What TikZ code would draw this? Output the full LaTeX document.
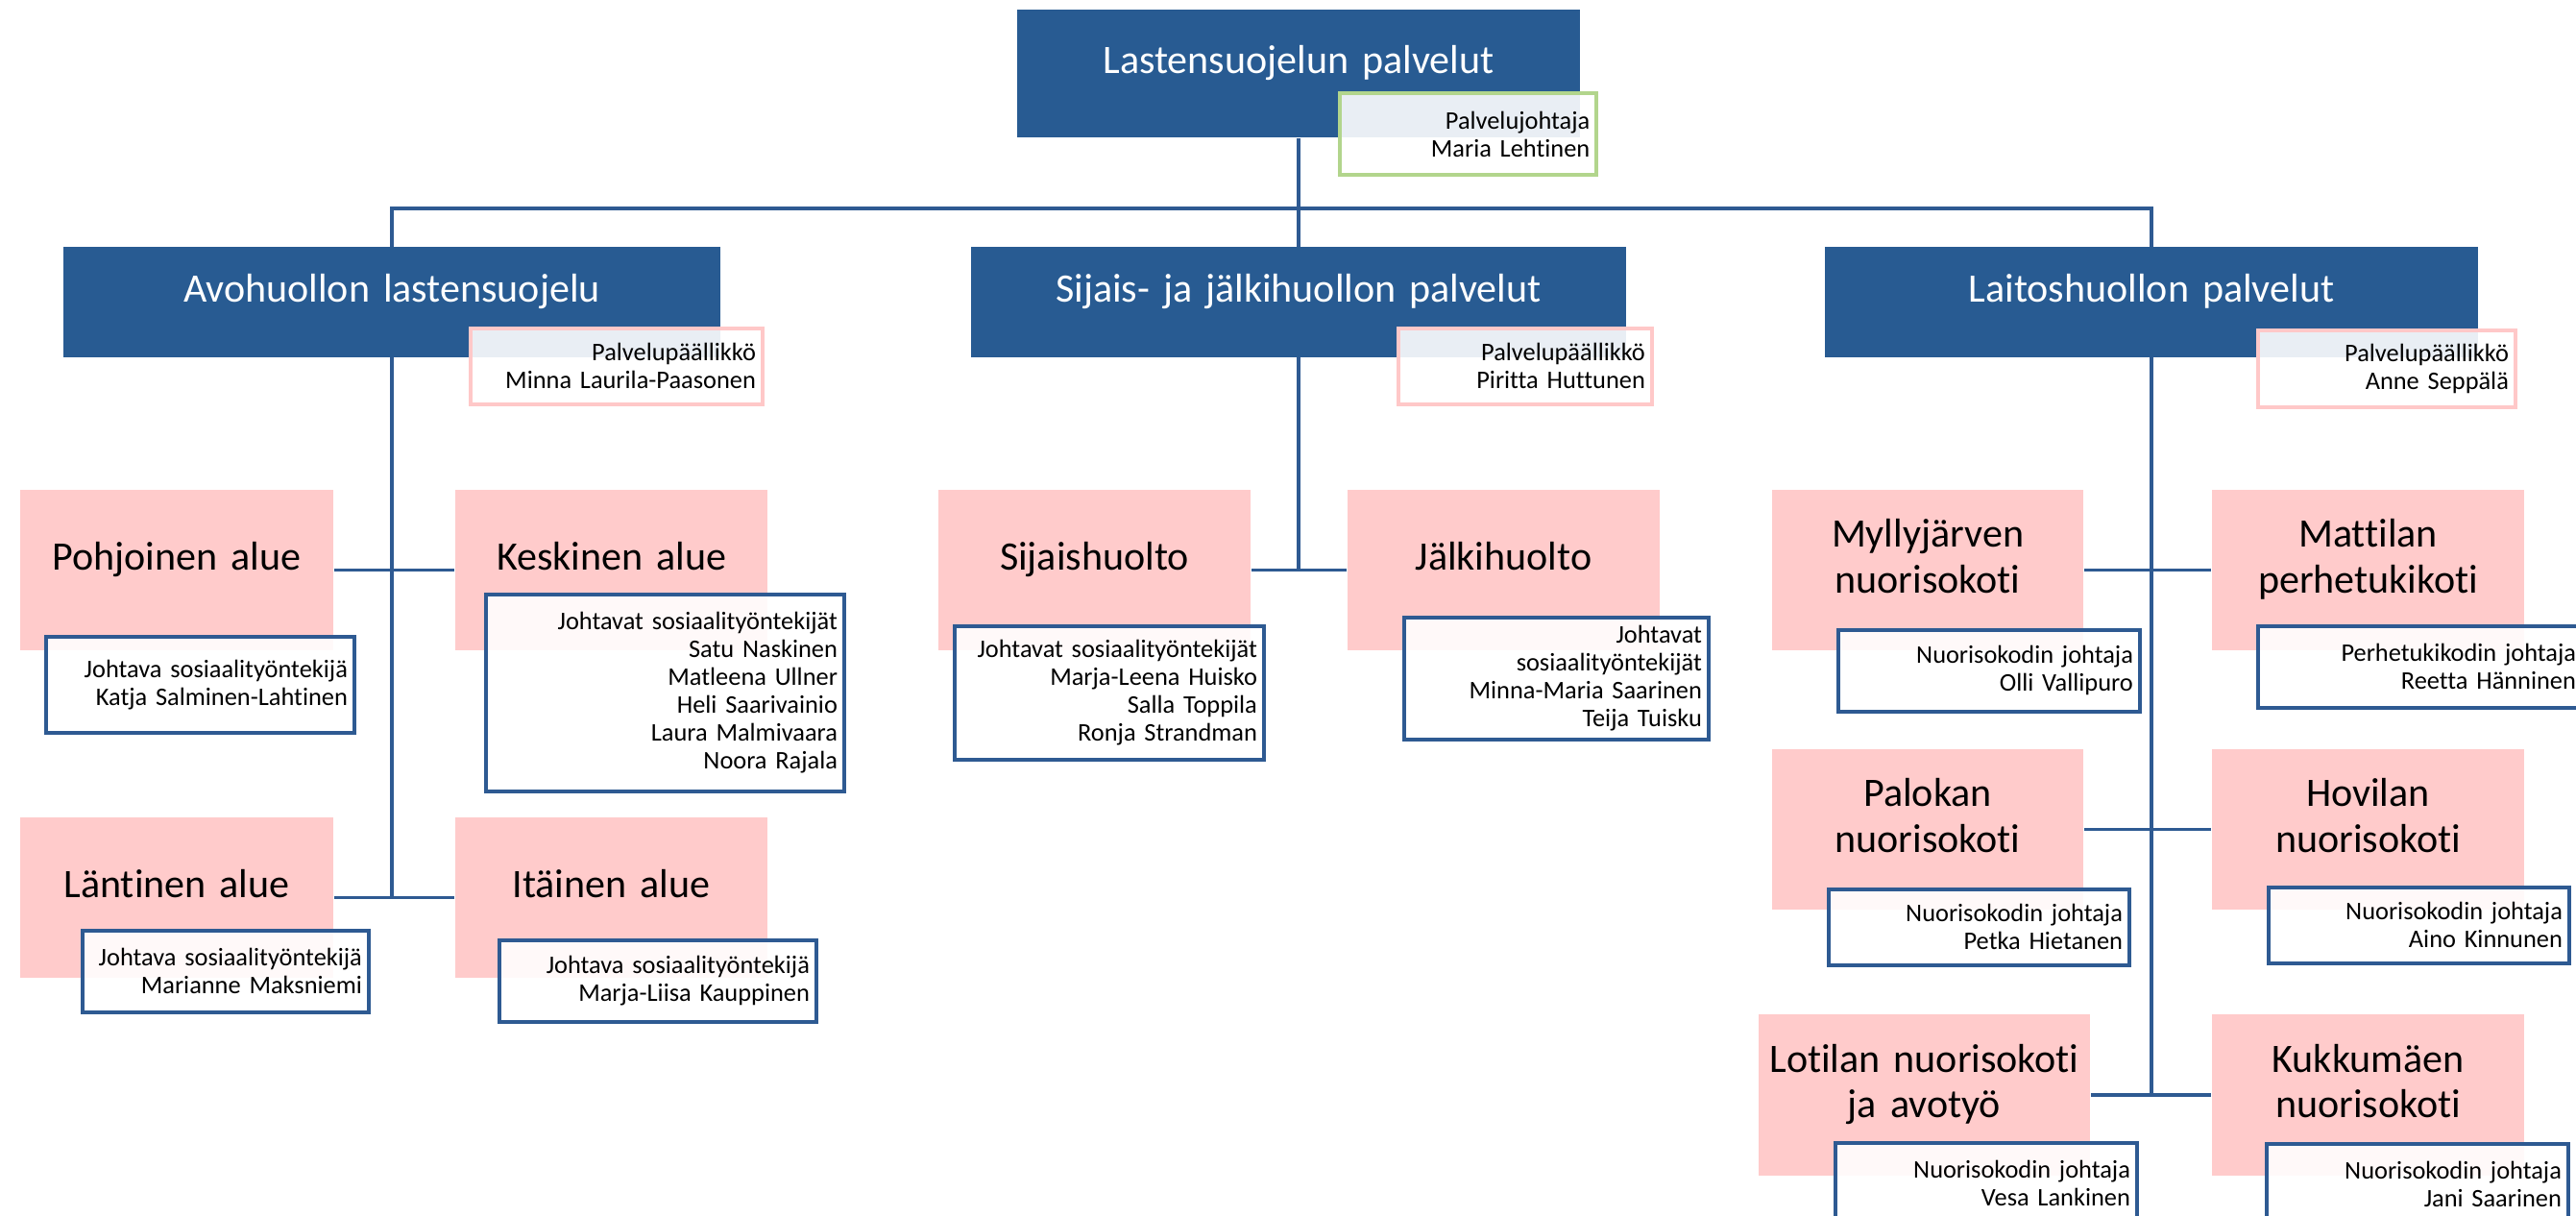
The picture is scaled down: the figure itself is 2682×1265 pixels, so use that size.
\documentclass[tikz,border=0pt]{standalone}
\usepackage{fontspec}
\setmainfont{Carlito}[Ligatures=NoCommon]
\definecolor{headblue}{RGB}{40,91,146}
\definecolor{lineblue}{RGB}{46,90,146}
\definecolor{unitpink}{RGB}{255,203,203}
\definecolor{rimpink}{RGB}{255,200,200}
\definecolor{rimgreen}{RGB}{178,213,140}
\newcommand{\boxfont}{\fontsize{11.95}{13.4}\selectfont}
\newcommand{\staffont}{\fontsize{7.5}{8.25}\selectfont}
\tikzset{
  headbox/.style={fill=headblue, text=white, font=\boxfont, align=center, inner sep=0pt, text width=#1, minimum width=#1, text height=4pt, text depth=4pt},
  unitbox/.style={fill=unitpink, font=\boxfont, align=center, inner sep=0pt, text width=#1, minimum width=#1, minimum height=1.67cm, text height=4pt, text depth=4pt},
  twolines/.style={text depth=17.4pt},
  staffbox/.style 2 args={draw=lineblue, line width=1pt, fill=white, fill opacity=0.9, text opacity=1, font=\staffont, align=right, anchor=north west, inner xsep=0.07cm, inner ysep=0pt, text width=#1, minimum height=#2},
  orgline/.style={line width=1pt, lineblue}
}
\begin{document}
\begin{tikzpicture}[x=0.01cm, y=-0.01cm]
	\useasboundingbox (0,0) rectangle (2682,1265);
	\node[headbox=5.86cm, minimum height=1.33cm] (top) at (1352,76.5) {Lastensuojelun palvelut};
	\node[headbox=6.83cm, minimum height=1.14cm] (avo) at (408,314.5) {Avohuollon lastensuojelu};
	\node[headbox=6.81cm, minimum height=1.14cm] (sij) at (1352,314.5) {Sijais- ja jälkihuollon palvelut};
	\node[headbox=6.79cm, minimum height=1.14cm] (lai) at (2240,314.5) {Laitoshuollon palvelut};
	\node[unitbox=3.26cm] (pohj) at (184,593.5) {Pohjoinen alue};
	\node[unitbox=3.25cm] (kesk) at (636.5,593.5) {Keskinen alue};
	\node[unitbox=3.26cm] (lant) at (184,934.5) {Läntinen alue};
	\node[unitbox=3.25cm] (ita) at (636.5,934.5) {Itäinen alue};
	\node[unitbox=3.25cm] (sijh) at (1139.5,593.5) {Sijaishuolto};
	\node[unitbox=3.25cm] (jalk) at (1565.5,593.5) {Jälkihuolto};
	\node[unitbox=3.24cm, twolines] (myl) at (2007,593.5) {Myllyjärven\\nuorisokoti};
	\node[unitbox=3.25cm, twolines] (mat) at (2465.5,593.5) {Mattilan\\perhetukikoti};
	\node[unitbox=3.24cm, twolines] (pal) at (2007,863.5) {Palokan\\nuorisokoti};
	\node[unitbox=3.25cm, twolines] (hov) at (2465.5,863.5) {Hovilan\\nuorisokoti};
	\node[unitbox=3.45cm, twolines] (loti) at (2003.5,1140) {Lotilan nuorisokoti\\ja avotyö};
	\node[unitbox=3.25cm, twolines] (kuk) at (2465.5,1140) {Kukkumäen\\nuorisokoti};
	\coordinate (hub) at (1352,217);
	\draw[orgline] (top) -- (hub);
	\draw[orgline] (avo.north) |- (hub) -| (lai.north);
	\draw[orgline] (hub) -- (sij.north);
	\draw[orgline] (avo.south) -- (avo.south |- lant.east);
	\draw[orgline] (pohj) -- (kesk);
	\draw[orgline] (lant) -- (ita);
	\draw[orgline] (sij.south) -- (sij.south |- sijh.east);
	\draw[orgline] (sijh) -- (jalk);
	\draw[orgline] (lai.south) -- (lai.south |- loti.east);
	\draw[orgline] (myl) -- (mat);
	\draw[orgline] (pal) -- (hov);
	\draw[orgline] (loti) -- (kuk);
	\node[staffbox={2.53cm}{0.85cm}, draw=rimgreen, line width=1.2pt] (topstaff) at (1393,95) {Palvelujohtaja\\Maria Lehtinen};
	\node[staffbox={2.90cm}{0.79cm}, draw=rimpink] (avostaff) at (488,340) {Palvelupäällikkö\\Minna Laurila-Paasonen};
	\node[staffbox={2.50cm}{0.79cm}, draw=rimpink] (sijstaff) at (1454,340) {Palvelupäällikkö\\Piritta Huttunen};
	\node[staffbox={2.54cm}{0.80cm}, draw=rimpink] (laistaff) at (2349,342) {Palvelupäällikkö\\Anne Seppälä};
	\node[staffbox={3.07cm}{1.00cm}] (pohjstaff) at (46,661) {Johtava sosiaalityöntekijä\\Katja Salminen-Lahtinen};
	\node[staffbox={3.59cm}{2.05cm}] (keskstaff) at (504,617) {Johtavat sosiaalityöntekijät\\Satu Naskinen\\Matleena Ullner\\Heli Saarivainio\\Laura Malmivaara\\Noora Rajala};
	\node[staffbox={2.84cm}{0.85cm}] (lantstaff) at (84,967) {Johtava sosiaalityöntekijä\\Marianne Maksniemi};
	\node[staffbox={3.16cm}{0.85cm}] (itastaff) at (518,977) {Johtava sosiaalityöntekijä\\Marja-Liisa Kauppinen};
	\node[staffbox={3.08cm}{1.39cm}] (sijhstaff) at (992,650) {Johtavat sosiaalityöntekijät\\Marja-Leena Huisko\\Salla Toppila\\Ronja Strandman};
	\node[staffbox={3.03cm}{1.27cm}] (jalkstaff) at (1460,641) {Johtavat\\sosiaalityöntekijät\\Minna-Maria Saarinen\\Teija Tuisku};
	\node[staffbox={3.00cm}{0.85cm}] (mylstaff) at (1912,654) {Nuorisokodin johtaja\\Olli Vallipuro};
	\node[staffbox={3.24cm}{0.85cm}] (matstaff) at (2349,650) {Perhetukikodin johtaja\\Reetta Hänninen};
	\node[staffbox={2.99cm}{0.79cm}] (palstaff) at (1902,924) {Nuorisokodin johtaja\\Petka Hietanen};
	\node[staffbox={2.99cm}{0.79cm}] (hovstaff) at (2360,922) {Nuorisokodin johtaja\\Aino Kinnunen};
	\node[staffbox={3.00cm}{0.85cm}] (lotistaff) at (1909,1188) {Nuorisokodin johtaja\\Vesa Lankinen};
	\node[staffbox={3.00cm}{0.85cm}] (kukstaff) at (2358,1189) {Nuorisokodin johtaja\\Jani Saarinen};
\end{tikzpicture}
\end{document}
